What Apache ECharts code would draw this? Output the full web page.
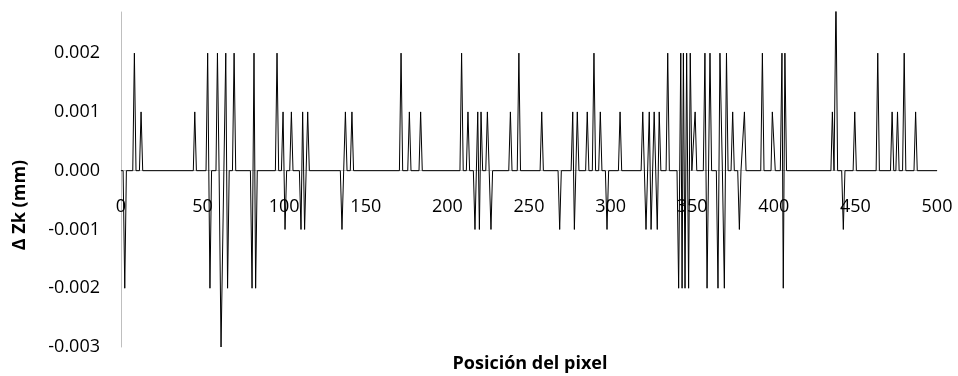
<!DOCTYPE html>
<html>
<head>
<meta charset="utf-8">
<script src="https://cdn.jsdelivr.net/npm/echarts@6/dist/echarts.min.js"></script>
<style>
html,body{margin:0;padding:0;background:#fff;}
#chart{width:958px;height:376px;}
</style>
</head>
<body>
<div id="chart"></div>
<script>
// Vertices of the Δ Zk trace (pixel position, Δ Zk in mm)
const posX = [
  0, 1.3, 2.3, 3.3, 7.2, 8.2, 9.2, 11.3, 12.3, 13.3,
  44.3, 45.2, 46.2, 52.1, 53.1, 54.5, 55.5, 58.2, 59.1, 60.1,
  61.3, 64.2, 65.3, 66.3, 68.3, 69.3, 70.3, 79.3, 80.3, 81.5,
  82.5, 83.5, 94.6, 95.6, 96.6, 98.3, 99.3, 100.5, 101.5, 103.4,
  104.4, 105.4, 109.3, 110.3, 111.3, 112.5, 114.4, 115.4, 134.4, 135.4,
  137.5, 138.5, 140.5, 141.5, 142.5, 170.6, 171.6, 172.6, 175.7, 176.7,
  177.7, 182.6, 183.6, 184.6, 207.7, 208.7, 209.7, 211.6, 212.6, 213.6,
  215.9, 216.9, 218.6, 219.6, 220.6, 221.6, 223.5, 224.5, 225.6, 226.7,
  227.7, 237.6, 238.6, 239.6, 242.8, 243.8, 244.8, 256.8, 257.8, 258.8,
  267.8, 268.8, 269.8, 275.8, 276.8, 277.8, 279.6, 280.6, 284.7, 285.7,
  286.7, 288.8, 289.8, 290.8, 292.7, 293.7, 294.7, 296.8, 297.8, 298.8,
  304.8, 305.8, 306.8, 318.7, 319.7, 321.7, 323.7, 324.8, 326.7, 328.6,
  329.8, 330.8, 334, 335, 336, 340.7, 341.7, 343, 343.8, 344.6,
  345.6, 346.6, 347.8, 348.8, 349.8, 350.9, 351.8, 352.8, 356.8, 357.8,
  359.1, 360.9, 361.9, 364.8, 365.8, 367, 368.5, 369.7, 371, 372,
  373.8, 374.8, 375.8, 377.9, 378.9, 379.9, 381, 382, 383, 392,
  393, 394, 398.3, 399.1, 399.9, 400.9, 404, 405, 405.8, 406.8,
  407.8, 435, 435.9, 436.9, 438.1, 439.1, 441.6, 442.6, 443.6, 448.6,
  449.6, 450.6, 462.7, 463.7, 464.7, 471.5, 472.5, 473.5, 474.8, 475.8,
  476.8, 478.9, 479.9, 480.9, 485.9, 486.9, 487.9, 500
];
const deltaZ = [
  0, 0, -0.002, 0, 0, 0.002, 0, 0, 0.001, 0,
  0, 0.001, 0, 0, 0.002, -0.002, 0, 0, 0.002, 0,
  -0.003, 0.002, -0.002, 0, 0, 0.002, 0, 0, -0.002, 0.002,
  -0.002, 0, 0, 0.002, 0, 0, 0.001, -0.001, 0, 0,
  0.001, 0, 0, -0.001, 0.001, -0.001, 0.001, 0, 0, -0.001,
  0.001, 0, 0, 0.001, 0, 0, 0.002, 0, 0, 0.001,
  0, 0, 0.001, 0, 0, 0.002, 0, 0, 0.001, 0,
  0, -0.001, 0.001, -0.001, 0.001, 0, 0, 0.001, 0, -0.001,
  0, 0, 0.001, 0, 0, 0.002, 0, 0, 0.001, 0,
  0, -0.001, 0, 0, 0.001, -0.001, 0.001, 0, 0, 0.001,
  0, 0, 0.002, 0, 0, 0.001, 0, 0, -0.001, 0,
  0, 0.001, 0, 0, 0.001, -0.001, 0.001, -0.001, 0.001, -0.001,
  0.001, 0, 0, 0.002, 0, 0, -0.002, 0.002, -0.002, 0.002,
  -0.002, 0.002, -0.002, 0.002, 0, 0, 0.001, 0, 0, 0.002,
  -0.002, 0.002, 0, 0, -0.002, 0.002, 0, -0.002, 0.002, 0,
  0, 0.001, 0, 0, -0.001, 0, 0, 0.001, 0, 0,
  0.002, 0, 0, 0.001, 0.001, 0, 0, 0.002, -0.002, 0.002,
  0, 0, 0.001, 0, 0.003, 0, 0, -0.001, 0, 0,
  0.001, 0, 0, 0.002, 0, 0, 0.001, 0, 0, 0.001,
  0, 0, 0.002, 0, 0, 0.001, 0, 0
];
const xTicks = [0, 50, 100, 150, 200, 250, 300, 350, 400, 450, 500];
const yTicks = [-0.003, -0.002, -0.001, 0.000, 0.001, 0.002];
const yMax = 0.0027;
const xAxisTitle = 'Posición del pixel';
const yAxisTitle = 'Δ Zk (mm)';

const seriesData = posX.map((x, i) => [x, deltaZ[i]]);
const FONT = '"Open Sans", "Liberation Sans", sans-serif';

const GRID_TOP = 12, GRID_BOTTOM = 29, H = 376;
const plotH = H - GRID_TOP - GRID_BOTTOM;
// shift the horizontal axis from the plot bottom up to the value 0
const zeroOffset = -plotH * (0 - yTicks[0]) / (yMax - yTicks[0]);

const chart = echarts.init(document.getElementById('chart'), null, {renderer: 'canvas'});
chart.setOption({
  animation: false,
  backgroundColor: '#ffffff',
  grid: {left: 121, right: 21, top: GRID_TOP, bottom: GRID_BOTTOM, containLabel: false, outerBoundsMode: 'none'},
  xAxis: {
    type: 'value',
    min: xTicks[0],
    max: xTicks[xTicks.length - 1],
    interval: 50,
    offset: zeroOffset,
    axisLine: {show: true, onZero: false, lineStyle: {color: '#bfbfbf', width: 1}},
    axisTick: {show: false},
    splitLine: {show: false},
    axisLabel: {
      color: '#000', fontFamily: FONT, fontSize: 18, margin: 27,
      formatter: v => xTicks.includes(v) ? String(v) : ''
    }
  },
  yAxis: {
    type: 'value',
    min: yTicks[0],
    max: yMax,
    interval: 0.001,
    axisLine: {show: true, onZero: false, lineStyle: {color: '#bfbfbf', width: 1}},
    axisTick: {show: false},
    splitLine: {show: false},
    axisLabel: {
      color: '#000', fontFamily: FONT, fontSize: 18, margin: 21,
      showMaxLabel: false,
      formatter: v => {
        const t = yTicks.find(k => Math.abs(k - v) < 1e-9);
        return t === undefined ? '' : t.toFixed(3);
      }
    }
  },
  graphic: [
    {
      type: 'text', x: 20, y: 205, rotation: Math.PI / 2,
      style: {text: yAxisTitle, fill: '#000', font: 'bold 18px ' + FONT, align: 'center', verticalAlign: 'middle'}
    },
    {
      type: 'text', x: 530, y: 364,
      style: {text: xAxisTitle, fill: '#000', font: 'bold 18px ' + FONT, align: 'center', verticalAlign: 'middle'}
    }
  ],
  series: [{
    type: 'line',
    data: seriesData,
    showSymbol: false,
    symbol: 'none',
    clip: true,
    lineStyle: {color: '#000', width: 1, join: 'miter', miterLimit: 10},
    z: 3
  }]
});
</script>
</body>
</html>
